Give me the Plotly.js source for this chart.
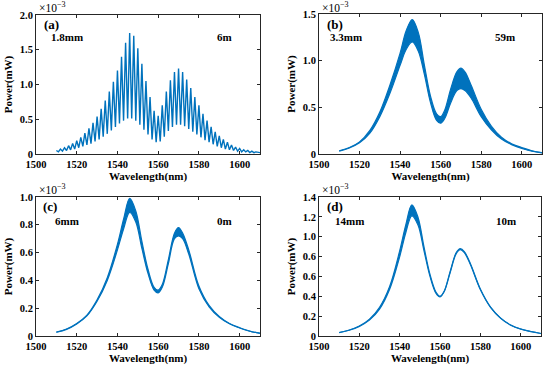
<!DOCTYPE html>
<html><head><meta charset="utf-8">
<script src="https://cdn.plot.ly/plotly-3.0.1.min.js"></script>
<style>html,body{margin:0;padding:0;background:#fff}#plot{width:550px;height:370px}</style>
</head><body><div id="plot"></div>
<script>
// Panel (a): fringe samples, 1 nm apart (peaks at even nm, troughs at odd nm), values in 1e-3 mW
const wlA = [1510,1511,1512,1513,1514,1515,1516,1517,1518,1519,1520,1521,1522,1523,1524,1525,1526,1527,1528,1529,1530,1531,1532,1533,1534,1535,1536,1537,1538,1539,1540,1541,1542,1543,1544,1545,1546,1547,1548,1549,1550,1551,1552,1553,1554,1555,1556,1557,1558,1559,1560,1561,1562,1563,1564,1565,1566,1567,1568,1569,1570,1571,1572,1573,1574,1575,1576,1577,1578,1579,1580,1581,1582,1583,1584,1585,1586,1587,1588,1589,1590,1591,1592,1593,1594,1595,1596,1597,1598,1599,1600,1601,1602,1603,1604,1605,1606,1607,1608,1609,1610];
const powA = [0.05,0.03,0.07,0.04,0.09,0.05,0.12,0.06,0.15,0.07,0.19,0.09,0.24,0.11,0.30,0.13,0.37,0.15,0.45,0.18,0.54,0.21,0.65,0.25,0.77,0.29,0.90,0.34,1.04,0.39,1.20,0.44,1.40,0.48,1.60,0.51,1.74,0.51,1.70,0.48,1.52,0.42,1.30,0.35,1.05,0.28,0.82,0.21,0.62,0.17,0.55,0.18,0.70,0.25,0.90,0.33,1.06,0.39,1.18,0.42,1.23,0.42,1.18,0.40,1.07,0.36,0.95,0.32,0.82,0.28,0.70,0.24,0.58,0.20,0.48,0.17,0.39,0.14,0.32,0.11,0.26,0.09,0.21,0.07,0.17,0.06,0.13,0.05,0.10,0.04,0.08,0.03,0.06,0.03,0.05,0.02,0.04,0.02,0.03,0.02,0.02];

// Panels (b)-(d): dense fringes read as upper / lower envelopes, values in 1e-3 mW
const wlEnv = [1510,1515,1520,1525,1530,1535,1540,1543,1546,1549,1552,1555,1558,1560,1562,1565,1568,1570,1572,1575,1580,1585,1590,1595,1600,1605,1610];
const upB = [0.035,0.07,0.13,0.25,0.45,0.74,1.08,1.32,1.44,1.30,0.95,0.62,0.43,0.40,0.47,0.70,0.88,0.92,0.88,0.74,0.48,0.30,0.18,0.11,0.07,0.035,0.015];
const loB = [0.030,0.065,0.12,0.22,0.40,0.65,0.95,1.12,1.20,1.10,0.85,0.55,0.36,0.33,0.38,0.55,0.68,0.70,0.68,0.60,0.40,0.26,0.16,0.10,0.06,0.030,0.012];
const upC = [0.028,0.05,0.09,0.15,0.26,0.42,0.66,0.84,0.99,0.90,0.68,0.48,0.35,0.33,0.37,0.55,0.74,0.78,0.74,0.62,0.36,0.22,0.14,0.09,0.06,0.035,0.02];
const loC = [0.027,0.048,0.087,0.145,0.25,0.40,0.62,0.77,0.89,0.82,0.63,0.45,0.33,0.31,0.35,0.52,0.70,0.72,0.70,0.59,0.34,0.21,0.135,0.088,0.058,0.034,0.019];
const upD = [0.035,0.06,0.10,0.17,0.29,0.50,0.86,1.12,1.32,1.20,0.90,0.62,0.44,0.40,0.45,0.65,0.84,0.88,0.85,0.73,0.47,0.29,0.18,0.11,0.07,0.045,0.025];
const loD = [0.034,0.058,0.097,0.16,0.27,0.47,0.80,1.04,1.21,1.12,0.86,0.60,0.43,0.395,0.445,0.64,0.83,0.87,0.84,0.72,0.465,0.288,0.178,0.109,0.069,0.044,0.025];

const xTicks = [1500,1520,1540,1560,1580,1600];
const yTickA = [0,0.5,1.0,1.5,2.0];   const yTextA = ['0','0.5','1.0','1.5','2.0'];
const yTickB = [0,0.5,1.0,1.5];       const yTextB = ['0','0.5','1.0','1.5'];
const yTickC = [0,0.2,0.4,0.6,0.8,1.0]; const yTextC = ['0','0.2','0.4','0.6','0.8','1.0'];
const yTickD = [0,0.2,0.4,0.6,0.8,1.0,1.2,1.4]; const yTextD = ['0','0.2','0.4','0.6','0.6','1.0','1.2','1.4'];
const panelLabels = ['(a)','(b)','(c)','(d)'];
const sizeLabels = ['1.8mm','3.3mm','6mm','14mm'];
const lengthLabels = ['6m','59m','0m','10m'];

const blue = '#0072BD';
const traces = [
  {x: wlA, y: powA, xaxis:'x', yaxis:'y', mode:'lines', line:{color:blue, width:1.4}, hoverinfo:'skip'}
];
function band(up, lo, xa, ya){
  traces.push({x: wlEnv, y: lo, xaxis:xa, yaxis:ya, mode:'lines', line:{color:blue, width:1.2, shape:'spline'}, hoverinfo:'skip'});
  traces.push({x: wlEnv, y: up, xaxis:xa, yaxis:ya, mode:'lines', fill:'tonexty', fillcolor:blue, line:{color:blue, width:1.2, shape:'spline'}, hoverinfo:'skip'});
}
band(upB, loB, 'x2', 'y2');
band(upC, loC, 'x3', 'y3');
band(upD, loD, 'x4', 'y4');

const F = 'Liberation Serif, Times New Roman, serif';
const W = 550, H = 370;
const boxes = [[36,260,15,154],[319,542,14,154],[36,260,197,336],[319,541,197,336]];
function xax(i){
  const b = boxes[i];
  return {domain:[b[0]/W, b[1]/W], range:[1500,1610], tickvals:xTicks, ticktext:xTicks.map(String),
    ticks:'inside', ticklen:3, tickcolor:'#262626', mirror:'ticks', showline:true, linecolor:'#262626', linewidth:1,
    showgrid:false, zeroline:false, tickfont:{family:F, size:10.5, color:'#000', weight:'bold'},
    title:{text:'Wavelength(nm)', font:{family:F, size:11, color:'#000', weight:'bold'}, standoff:3},
    anchor: 'y'+(i===0?'':i+1), fixedrange:true};
}
function yax(i, tv, tt, top){
  const b = boxes[i];
  return {domain:[1-b[3]/H, 1-b[2]/H], range:[0, top], tickvals:tv, ticktext:tt,
    ticks:'inside', ticklen:3, tickcolor:'#262626', mirror:'ticks', showline:true, linecolor:'#262626', linewidth:1,
    showgrid:false, zeroline:false, tickfont:{family:F, size:10.5, color:'#000', weight:'bold'},
    title:{text:'Power(mW)', font:{family:F, size:11, color:'#000', weight:'bold'}, standoff:4},
    anchor: 'x'+(i===0?'':i+1), fixedrange:true};
}
// text positions (pixel centres) for the panel letter, sample size and length labels
const letterPos = [[51,24],[335,24],[50,207],[335,207]];
const sizePos = [[67,37.5],[346,37.5],[67,220.5],[349,220.5]];
const lenPos = [[224,37.5],[505,37.5],[224,220.5],[506,220.5]];
const expPos = [[37,7],[320,7],[37,189],[320,189]];
const annotations = [];
function P(p){ return {xref:'paper', yref:'paper', x:p[0]/W, y:1-p[1]/H}; }
for (let i=0;i<4;i++){
  annotations.push(Object.assign(P(expPos[i]), {xanchor:'left', yanchor:'middle',
    text:'×10<sup>−3</sup>', showarrow:false, font:{family:F, size:11.5, color:'#000'}}));
  annotations.push(Object.assign(P(letterPos[i]), {xanchor:'center', yanchor:'middle',
    text:'<b>'+panelLabels[i]+'</b>', showarrow:false, font:{family:F, size:13, color:'#000'}}));
  annotations.push(Object.assign(P(sizePos[i]), {xanchor:'center', yanchor:'middle',
    text:'<b>'+sizeLabels[i]+'</b>', showarrow:false, font:{family:F, size:11, color:'#000'}}));
  annotations.push(Object.assign(P(lenPos[i]), {xanchor:'center', yanchor:'middle',
    text:'<b>'+lengthLabels[i]+'</b>', showarrow:false, font:{family:F, size:11, color:'#000'}}));
}
const layout = {
  width:W, height:H, margin:{l:0,r:0,t:0,b:0}, paper_bgcolor:'#fff', plot_bgcolor:'#fff', showlegend:false,
  xaxis:xax(0), yaxis:yax(0,yTickA,yTextA,2.0),
  xaxis2:xax(1), yaxis2:yax(1,yTickB,yTextB,1.5),
  xaxis3:xax(2), yaxis3:yax(2,yTickC,yTextC,1.0),
  xaxis4:xax(3), yaxis4:yax(3,yTickD,yTextD,1.4),
  annotations: annotations
};
Plotly.newPlot('plot', traces, layout, {displayModeBar:false, staticPlot:true});
</script></body></html>
